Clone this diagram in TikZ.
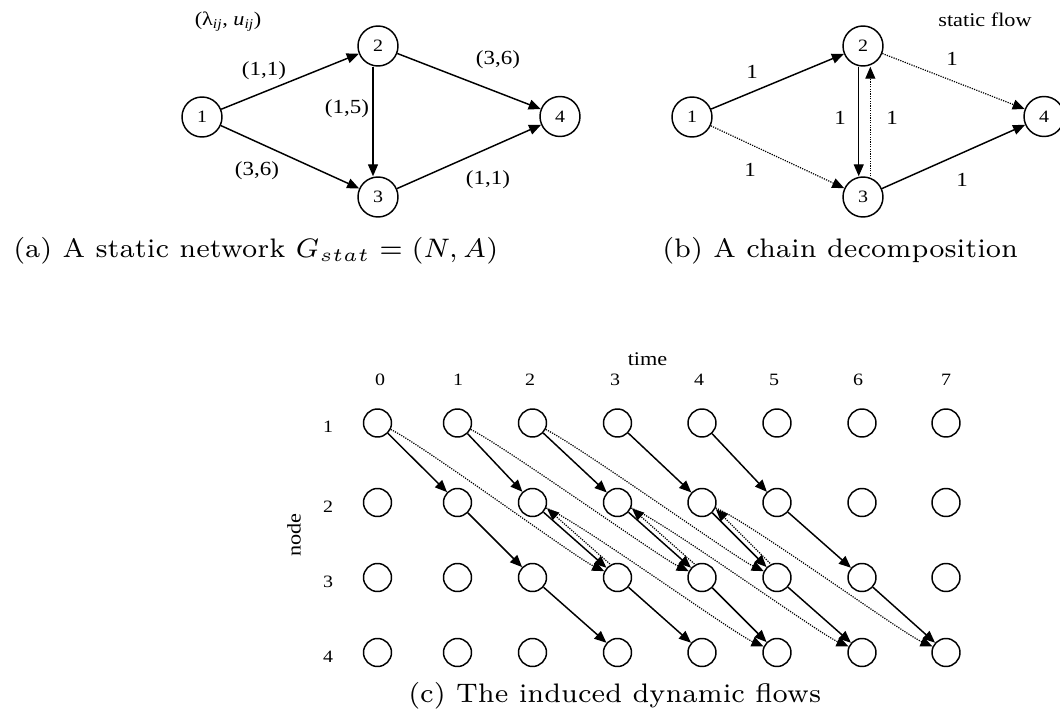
\documentclass[tikz,border=0pt]{standalone}
\usepackage{fontspec}
\newfontfamily\labfont[FakeStretch=1.15]{Liberation Serif}
\usetikzlibrary{arrows.meta}
\newcommand\captext[1]{\scalebox{2.87}{\fontsize{7}{8.5}\selectfont #1}}
\begin{document}
\begin{tikzpicture}[x=0.75pt,y=-0.75pt,
  bignode/.style={draw,circle,line width=1.1pt,minimum size=30pt,inner sep=0pt,
    font=\labfont\fontsize{13}{15}\selectfont},
  dnode/.style={draw,circle,line width=1.1pt,minimum size=21pt,inner sep=0pt},
  flowarc/.style={line width=1.1pt,-{Triangle[length=9pt,width=7.5pt]}},
  dotarc/.style={line width=0.9pt,dash pattern=on 0.9pt off 0.9pt,
    -{Triangle[length=9pt,width=7.5pt]}},
  elab/.style={font=\labfont\fontsize{15}{17}\selectfont,inner sep=0pt},
  tlab/.style={font=\labfont\fontsize{13}{15}\selectfont,inner sep=0pt},
  hlab/.style={font=\labfont\fontsize{14.5}{17}\selectfont,inner sep=0pt},
  captn/.style={anchor=base west,inner sep=0pt}]
\path[use as bounding box] (0,0) rectangle (1060,723);

% ---------- (a) static network ----------
\node[bignode] (a1) at (202,117) {1};
\node[bignode] (a2) at (378,46) {2};
\node[bignode] (a3) at (378,197) {3};
\node[bignode] (a4) at (560,116.5) {4};
\draw[flowarc] (a1) -- (a2);
\draw[flowarc] (a1) -- (a3);
\draw[flowarc,transform canvas={xshift=-3.75pt}] (a2) -- (a3);
\draw[flowarc] (a2) -- (a4);
\draw[flowarc] (a3) -- (a4);
\node[hlab] (alam) at (228,22) {(λ\textsubscript{\textit{ij}}, \textit{u}\textsubscript{\textit{ij}})};
\node[elab] (a12) at (264,71) {(1,1)};
\node[elab] (a23) at (347,109) {(1,5)};
\node[elab] (a24) at (498,60) {(3,6)};
\node[elab] (a13) at (257,171) {(3,6)};
\node[elab] (a34) at (488,180) {(1,1)};
\node[captn] (capa) at (13,258) {\captext{(a) A static network $G_{stat} = (N, A)$}};

% ---------- (b) chain decomposition ----------
\node[bignode] (b1) at (692,117) {1};
\node[bignode] (b2) at (863,46) {2};
\node[bignode] (b3) at (863,197) {3};
\node[bignode] (b4) at (1044,116.5) {4};
\draw[flowarc] (b1) -- (b2);
\draw[flowarc,transform canvas={xshift=-3.2pt}] (b2) -- (b3);
\draw[flowarc] (b3) -- (b4);
\draw[dotarc] (b1) -- (b3);
\draw[dotarc,transform canvas={xshift=5.5pt}] (b3) -- (b2);
\draw[dotarc] (b2) -- (b4);
\node[hlab] (bsf) at (985,20) {static flow};
\node[elab] (b12) at (752,72) {1};
\node[elab] (b24) at (952,59) {1};
\node[elab] (b23) at (840,118) {1};
\node[elab] (b32) at (892,118) {1};
\node[elab] (b13) at (750,170) {1};
\node[elab] (b34) at (962,180) {1};
\node[captn] (capb) at (662,258) {\captext{(b) A chain decomposition}};

% ---------- (c) time-expanded network ----------
\foreach \r/\y in {1/423,2/502.5,3/577.5,4/652.5}{
  \foreach \c/\x in {0/377.5,1/457.5,2/532.5,3/617.5,4/702,5/777,6/862,7/946}{
    \node[dnode] (c\r\c) at (\x,\y) {};
  }
  \node[tlab] (row\r) at (328,\y+4) {\r};
}
\foreach \c/\x in {0/380,1/458,2/530,3/615,4/699,5/774,6/858,7/946}{
  \node[tlab] (tm\c) at (\x,380) {\c};
}
\node[hlab] (timelab) at (647.5,359) {time};
\node[hlab,rotate=90] (nodelab) at (294,535) {node};

% unit-time arcs 1->2, 2->3, 3->4
\foreach \t in {0,...,4}{\pgfmathtruncatemacro\u{\t+1}\draw[flowarc] (c1\t) -- (c2\u);}
\foreach \t in {1,...,5}{\pgfmathtruncatemacro\u{\t+1}\draw[flowarc] (c2\t) -- (c3\u);}
\foreach \t in {2,...,6}{\pgfmathtruncatemacro\u{\t+1}\draw[flowarc] (c3\t) -- (c4\u);}
% second chain: 1->3 (3 steps), 3->2 backwards, 2->4 (3 steps)
\foreach \t in {0,...,2}{\pgfmathtruncatemacro\u{\t+3}
  \draw[dotarc] (c1\t) .. controls +(45,22) and +(-42,-20) .. (c3\u);}
\foreach \t in {2,...,4}{\pgfmathtruncatemacro\u{\t+3}
  \draw[dotarc] (c2\t) .. controls +(45,18) and +(-45,-20) .. (c4\u);}
\foreach \t in {2,...,4}{\pgfmathtruncatemacro\u{\t+1}
  \draw[dotarc,transform canvas={xshift=2.6pt,yshift=2.8pt}] (c3\u) -- (c2\t);}
\node[captn] (capc) at (408,702.5) {\captext{(c) The induced dynamic flows}};
\end{tikzpicture}
\end{document}
